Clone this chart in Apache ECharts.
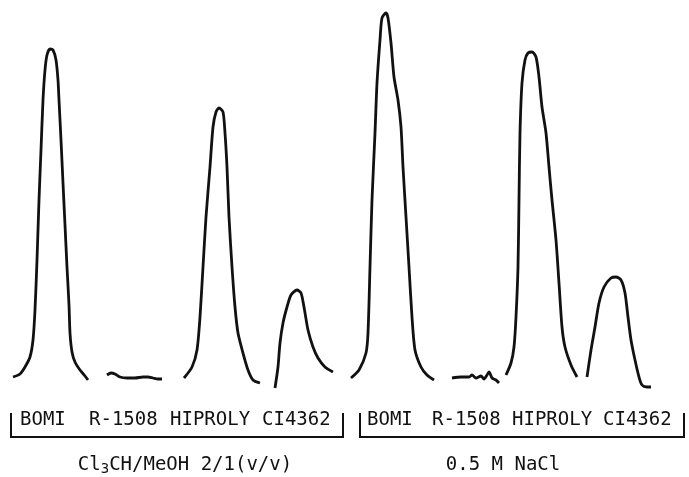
<!DOCTYPE html>
<html>
<head>
<meta charset="utf-8">
<script src="https://cdn.jsdelivr.net/npm/echarts@6/dist/echarts.min.js"></script>
<style>
  html, body { margin: 0; padding: 0; background: #fff; }
  #main { width: 689px; height: 477px; }
</style>
</head>
<body>
<div id="main"></div>
<script>
// trace position (x) and detector response (y)
var peakNames = ['BOMI', 'R-1508', 'HIPROLY', 'CI4362'];
var panelCaptions = ['Cl3CH/MeOH 2/1(v/v)', '0.5 M NaCl'];

// Cl3CH/MeOH 2/1 (v/v)
var solvBomi = [[13,23],[20,26],[25,33],[30,43],[33,60],[35,90],[37,140],[39,200],[41,250],[43,300],[45,330],[47,345],[50,351],[53,350],[56,340],[58,320],[59,300],[61,260],[63,217],[65,175],[67,133],[69,95],[70,67],[72,48],[75,38],[80,30],[85,24],[88,20]];
var solvR1508 = [[107,25],[111,27],[115,26],[120,23],[127,22],[135,22],[143,23],[148,23],[153,22],[158,21],[162,21]];
var solvHiproly = [[184,22],[192,33],[197,50],[200,83],[203,133],[206,183],[210,233],[213,273],[216,288],[219,292],[223,288],[225,267],[227,233],[229,183],[232,133],[235,93],[238,67],[243,47],[248,30],[253,20],[260,17]];
var solvCi4362 = [[275,12],[278,33],[280,57],[283,77],[287,93],[291,105],[297,110],[301,107],[304,93],[308,70],[313,53],[318,42],[325,33],[333,28]];

// 0.5 M NaCl
var saltBomi = [[351,22],[359,30],[366,47],[368,67],[370,133],[372,200],[375,267],[377,317],[380,360],[382,382],[386,387],[388,382],[391,357],[394,323],[398,300],[401,273],[403,233],[406,183],[409,133],[412,83],[415,50],[421,33],[427,25],[434,20]];
var saltR1508 = [[452,22],[461,23],[469,23],[472,25],[476,22],[481,24],[484,21],[487,25],[489,28],[492,22],[496,20],[499,17]];
var saltHiproly = [[506,25],[511,37],[514,53],[516,83],[518,133],[519,200],[520,267],[522,317],[525,340],[528,347],[532,348],[536,343],[539,323],[542,293],[546,267],[549,233],[552,200],[556,160],[559,117],[562,73],[565,53],[571,35],[577,23]];
var saltCi4362 = [[587,23],[591,50],[595,73],[599,97],[604,113],[611,122],[616,123],[621,120],[625,107],[628,83],[631,60],[635,40],[639,23],[642,15],[647,13],[651,13]];

var traces = [solvBomi, solvR1508, solvHiproly, solvCi4362, saltBomi, saltR1508, saltHiproly, saltCi4362];

// layout only
var labelLeft = [[20, 89, 170, 262], [367, 432, 512, 603]];
var bracketSpan = [[11, 343], [360, 684]];
var captionCenter = [185, 503];

var myChart = echarts.init(document.getElementById('main'));

var series = traces.map(function (d) {
    return {
        type: 'line',
        data: d,
        smooth: 0.25,
        showSymbol: false,
        silent: true,
        lineStyle: { color: '#111', width: 2.8 }
    };
});

var graphic = [];
var mono = '"DejaVu Sans Mono", "Liberation Mono", monospace';

labelLeft.forEach(function (xs, p) {
    xs.forEach(function (x, i) {
        graphic.push({
            type: 'text',
            left: x,
            top: 411,
            style: { text: peakNames[i], font: '19px ' + mono, fill: '#111' }
        });
    });
    var a = bracketSpan[p][0], b = bracketSpan[p][1];
    graphic.push({
        type: 'polyline',
        shape: { points: [[a, 413], [a, 437], [b, 437], [b, 413]] },
        style: { stroke: '#111', lineWidth: 2, fill: null }
    });
});

// captions, the 3 of Cl3CH written as a subscript
var sub = panelCaptions[0].replace('Cl3', '');
graphic.push({
    type: 'text',
    x: captionCenter[0],
    y: 465,
    style: {
        text: '{a|Cl}{s|3}{a|' + sub + '}',
        align: 'center',
        verticalAlign: 'middle',
        rich: {
            a: { font: '19px ' + mono, fill: '#111' },
            s: { font: '14px ' + mono, fill: '#111', padding: [8, 0, 0, 0] }
        }
    }
});
graphic.push({
    type: 'text',
    x: captionCenter[1],
    y: 465,
    style: {
        text: panelCaptions[1],
        align: 'center',
        verticalAlign: 'middle',
        font: '19px ' + mono,
        fill: '#111'
    }
});

var option = {
    animation: false,
    backgroundColor: '#fff',
    grid: { left: 0, right: 0, top: 0, height: 400 },
    xAxis: { type: 'value', min: 0, max: 689, show: false },
    yAxis: { type: 'value', min: 0, max: 400, show: false },
    series: series,
    graphic: graphic
};

myChart.setOption(option);
</script>
</body>
</html>
